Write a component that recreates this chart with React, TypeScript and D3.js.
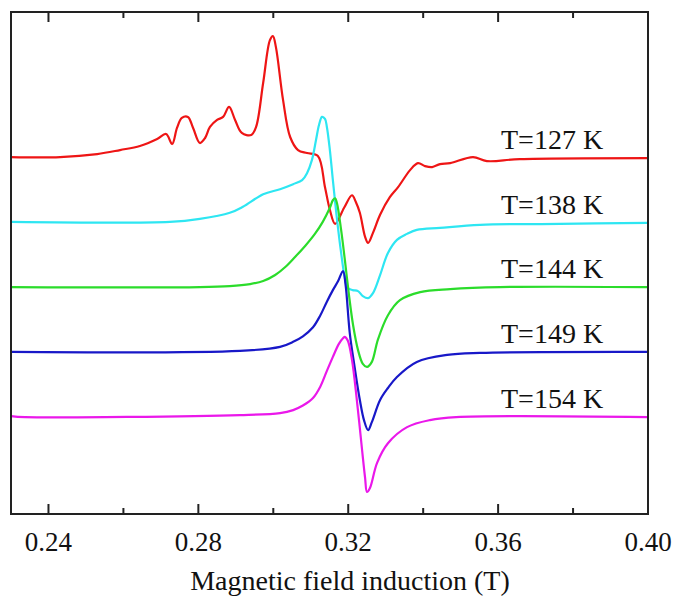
import React, { useEffect, useRef } from 'react'
import * as d3 from 'd3'

// field (T) and intensity (a.u., offset per curve)
const red127 = [
  [0.23, 71.1], [0.2431, 71.1], [0.253, 71.7], [0.2591, 72.5], [0.2644, 73.3],
  [0.269, 74.7], [0.2714, 75.7], [0.273, 73.7], [0.2743, 76.9], [0.2756, 78.9],
  [0.2772, 79.1], [0.2786, 76.9], [0.2804, 73.9], [0.2818, 74.9], [0.2831, 77.1],
  [0.285, 78.5], [0.2866, 79.1], [0.2882, 81.1], [0.2898, 78.5], [0.2916, 75.9],
  [0.2941, 75.5], [0.2954, 77.1], [0.2973, 85.9], [0.2991, 94.4], [0.2999, 95.2],
  [0.3007, 93.0], [0.3026, 82.5], [0.3045, 75.1], [0.3066, 72.5], [0.309, 71.9],
  [0.3119, 71.3], [0.3138, 65.1], [0.3151, 60.6], [0.3165, 57.8], [0.3189, 61.0],
  [0.321, 63.5], [0.322, 62.2], [0.3231, 60.0], [0.3245, 55.2], [0.3253, 54.0],
  [0.3266, 56.0], [0.3285, 59.6], [0.3311, 63.1], [0.3333, 65.1], [0.3365, 68.5],
  [0.3386, 69.9], [0.3405, 69.3], [0.3424, 69.1], [0.3445, 69.7], [0.3472, 69.9],
  [0.3533, 71.1], [0.357, 70.3], [0.3658, 70.7], [0.4, 70.9],
]

const cyan138 = [
  [0.23, 58.2], [0.2724, 58.2], [0.2804, 58.8], [0.2884, 60.0], [0.2919, 61.2],
  [0.2973, 63.7], [0.3018, 64.7], [0.3053, 65.7], [0.3077, 66.5], [0.309, 67.9],
  [0.3103, 70.5], [0.3114, 74.5], [0.3122, 77.5], [0.313, 79.1],
  [0.3138, 78.7], [0.3143, 77.1], [0.3151, 72.5], [0.3159, 66.5], [0.3169, 59.4],
  [0.318, 52.6], [0.3191, 47.0], [0.3199, 45.0], [0.3212, 44.6], [0.3226, 44.4],
  [0.3239, 43.4], [0.3253, 43.0], [0.3266, 44.0], [0.3285, 47.6], [0.3306, 52.0],
  [0.333, 54.6], [0.3357, 55.8], [0.3383, 56.6], [0.3445, 57.0], [0.3552, 57.6],
  [0.3765, 57.8], [0.4, 58.0],
]

const green144 = [
  [0.23, 45.2], [0.2804, 45.2], [0.2884, 45.4], [0.2938, 45.8], [0.2973, 46.4],
  [0.3005, 47.6], [0.3032, 49.2], [0.3058, 51.2], [0.3085, 53.4], [0.3111, 55.8],
  [0.3132, 58.2], [0.3151, 61.0], [0.3159, 62.5], [0.3165, 62.9], [0.317, 61.9],
  [0.3181, 56.6], [0.3191, 50.6], [0.3202, 43.6], [0.3213, 37.6], [0.3226, 32.7],
  [0.3239, 29.9], [0.325, 29.3], [0.3263, 30.3], [0.3279, 34.7], [0.3306, 39.6],
  [0.3338, 42.6], [0.3392, 44.2], [0.3472, 44.8], [0.3605, 45.2], [0.4, 45.2],
]

const blue149 = [
  [0.23, 32.3], [0.2911, 32.5], [0.3018, 33.3], [0.3053, 34.3], [0.3079, 35.4],
  [0.3106, 37.2], [0.3125, 39.5], [0.3143, 42.3], [0.3159, 44.6], [0.3173, 46.4],
  [0.3186, 48.4], [0.3193, 45.6], [0.3204, 36.1], [0.3217, 29.3],
  [0.3231, 22.7], [0.3242, 18.7], [0.3253, 16.7], [0.3263, 18.3], [0.3285, 22.7],
  [0.3306, 25.1], [0.333, 27.3], [0.3383, 30.3], [0.3464, 31.7], [0.3552, 32.1],
  [0.4, 32.3],
]

const magenta154 = [
  [0.23, 19.5], [0.2337, 19.3], [0.2911, 19.7], [0.3018, 20.1], [0.3053, 20.7],
  [0.3079, 21.6], [0.3106, 23.1], [0.3125, 25.3], [0.3143, 28.5], [0.3159, 31.3],
  [0.3175, 33.9], [0.3186, 35.0], [0.3191, 35.3], [0.3199, 34.5], [0.321, 30.7],
  [0.3223, 22.7], [0.3237, 12.7], [0.3245, 7.2], [0.325, 4.4], [0.3258, 5.2],
  [0.3277, 10.2], [0.3306, 14.1], [0.3357, 17.3], [0.3418, 18.7], [0.3488, 19.3],
  [0.4, 19.3],
]

const seriesData = [red127, cyan138, green144, blue149, magenta154]
const seriesLabels = ['T=127 K', 'T=138 K', 'T=144 K', 'T=149 K', 'T=154 K']
const seriesColors = ['#ee1515', '#2ee6f2', '#2bdc2b', '#1818c8', '#ea18ea']

const majorTicks = [0.24, 0.28, 0.32, 0.36, 0.4]
const minorTicks = [0.26, 0.3, 0.34, 0.38]

const FONT = 'Liberation Serif, DejaVu Serif, serif'

export default function App() {
  const ref = useRef<SVGSVGElement>(null)

  useEffect(() => {
    const width = 675,
      height = 596
    const left = 11,
      right = 648,
      top = 12,
      bottom = 514

    const svg = d3.select(ref.current)
    svg.selectAll('*').remove()

    const x = d3.scaleLinear().domain([0.23, 0.4]).range([left, right])
    const y = d3.scaleLinear().domain([0, 100]).range([bottom, top])

    const line = d3
      .line<number[]>()
      .x(d => x(d[0]))
      .y(d => y(d[1]))
      .curve(d3.curveCatmullRom.alpha(0.5))

    svg
      .selectAll('path.spec')
      .data(seriesData)
      .enter()
      .append('path')
      .attr('class', 'spec')
      .attr('d', d => line(d))
      .attr('fill', 'none')
      .attr('stroke', (d, i) => seriesColors[i])
      .attr('stroke-width', 2.2)
      .attr('stroke-linejoin', 'round')

    // curve labels sit just above each baseline on the right
    svg
      .selectAll('text.lbl')
      .data(seriesLabels)
      .enter()
      .append('text')
      .attr('class', 'lbl')
      .attr('x', x(0.3744))
      .attr('y', (d, i) => {
        const s = seriesData[i]
        return y(s[s.length - 1][1]) - 9
      })
      .attr('text-anchor', 'middle')
      .style('font-family', FONT)
      .style('font-size', '28px')
      .attr('fill', '#111')
      .text(d => d)

    // ticks, inward on top and bottom
    const tickG = svg.append('g').attr('stroke', '#222').attr('stroke-width', 2)
    majorTicks.forEach(t => {
      tickG.append('line').attr('x1', x(t)).attr('x2', x(t)).attr('y1', bottom).attr('y2', bottom - 10)
      tickG.append('line').attr('x1', x(t)).attr('x2', x(t)).attr('y1', top).attr('y2', top + 10)
    })
    minorTicks.forEach(t => {
      tickG.append('line').attr('x1', x(t)).attr('x2', x(t)).attr('y1', bottom).attr('y2', bottom - 6)
      tickG.append('line').attr('x1', x(t)).attr('x2', x(t)).attr('y1', top).attr('y2', top + 6)
    })

    svg
      .append('rect')
      .attr('x', left)
      .attr('y', top)
      .attr('width', right - left)
      .attr('height', bottom - top)
      .attr('fill', 'none')
      .attr('stroke', '#222')
      .attr('stroke-width', 2)

    svg
      .selectAll('text.tick')
      .data(majorTicks)
      .enter()
      .append('text')
      .attr('class', 'tick')
      .attr('x', d => x(d))
      .attr('y', 551)
      .attr('text-anchor', 'middle')
      .style('font-family', FONT)
      .style('font-size', '27px')
      .attr('fill', '#111')
      .text(d => d3.format('.2f')(d))

    svg
      .append('text')
      .attr('x', 350)
      .attr('y', 590)
      .attr('text-anchor', 'middle')
      .style('font-family', FONT)
      .style('font-size', '28px')
      .attr('fill', '#111')
      .text('Magnetic field induction (T)')

    svg.attr('width', width).attr('height', height)
  }, [])

  return (
    <svg
      ref={ref}
      width={675}
      height={596}
      style={{ position: 'absolute', left: 0, top: 0, display: 'block', background: '#fff' }}
    />
  )
}
